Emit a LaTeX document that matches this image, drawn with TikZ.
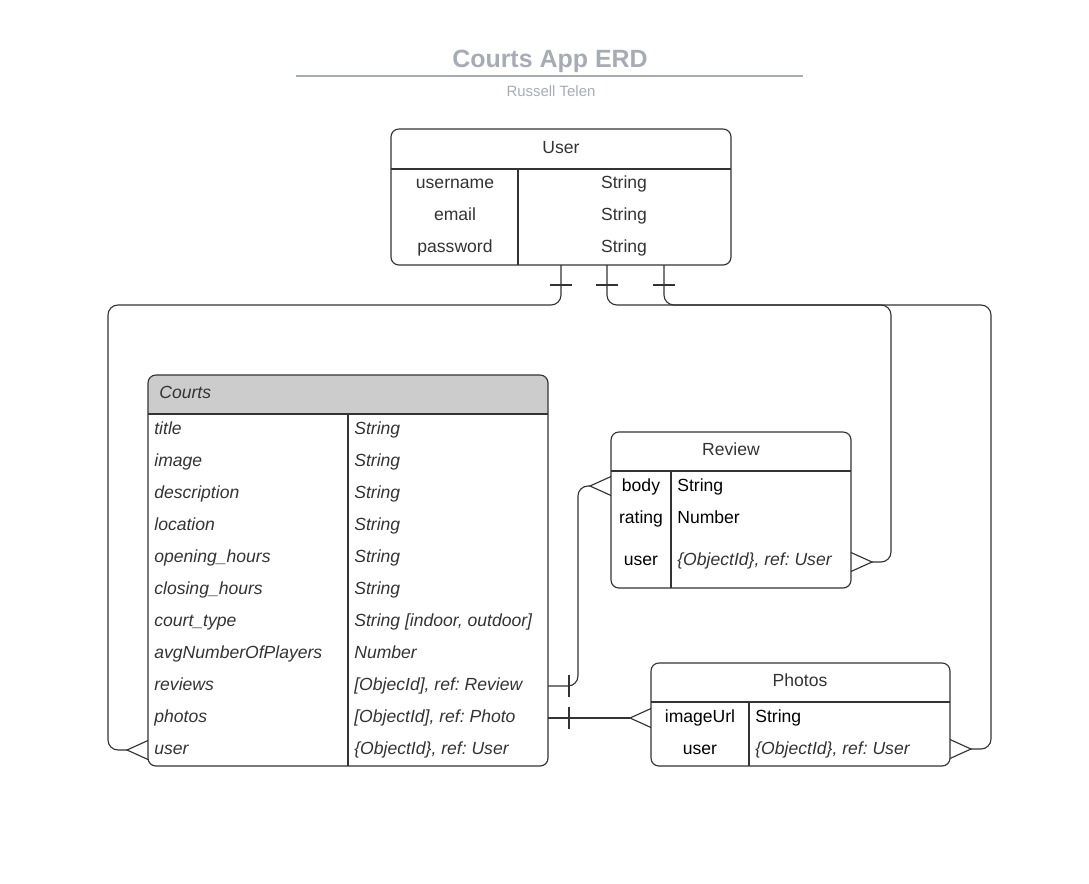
\documentclass[tikz,border=0pt]{standalone}
\usepackage{fontspec}
\setmainfont{Liberation Sans}
\usepackage{xcolor}
\usepackage{tikz}
\frenchspacing
\definecolor{ink}{HTML}{333333}
\definecolor{titlegray}{HTML}{A6ACB5}
\definecolor{headfill}{HTML}{CCCCCC}

\tikzset{
  box/.style={draw=ink, line width=0.65pt, rounded corners=4.5pt},
  rule/.style={draw=ink, line width=0.65pt},
  link/.style={draw=ink, line width=0.65pt, rounded corners=5.7pt, shorten >=0.42cm},
  cell/.style={font=\fontsize{10}{12}\selectfont, text=ink, inner sep=0pt, anchor=base},
  lcell/.style={cell, anchor=base west},
  icell/.style={lcell, font=\fontsize{10}{12}\selectfont\itshape},
  crow/.pic={\draw[rule] (0,-9.5) -- (-21,0) -- (0,9.5);},
  onebar/.pic={\draw[rule] (0,-11) -- (0,11);}
}

\begin{document}
\begin{tikzpicture}[x=0.02cm, y=-0.02cm]
    \useasboundingbox (0,0) rectangle (1089,883);

    % --- Title ---
    \node[cell, font=\fontsize{14.2}{17}\selectfont\bfseries, text=titlegray] (title) at (550,67) {Courts App ERD};
    \draw[titlegray, line width=1.1pt] (296,76) -- (803,76);
    \node[cell, font=\fontsize{8.5}{10}\selectfont, text=titlegray] (author) at (551,96) {Russell Telen};

    % --- User ---
    \draw[box] (391,129) rectangle (731,265);
    \draw[rule] (391,169) -- (731,169);
    \draw[rule] (518,169) -- (518,265);
    \node[cell] (u-head) at (561,153) {User};
    \foreach \fname [count=\i from 0] in {username, email, password} {
        \node[cell] (un\i) at (455,188+32*\i) {\fname};
        \node[cell] (ut\i) at (624,188+32*\i) {String};
    }

    % --- Courts ---
    \begin{scope}
        \clip[rounded corners=4.5pt] (148,375) rectangle (548,766);
        \fill[headfill] (148,375) rectangle (548,414);
    \end{scope}
    \draw[box] (148,375) rectangle (548,766);
    \draw[rule] (148,414) -- (548,414);
    \draw[rule] (348,414) -- (348,766);
    \node[icell] (c-head) at (159,398) {Courts};
    \foreach \fname/\ftype [count=\i from 0] in {title/String, image/String,
        description/String, location/String, opening\_hours/String,
        closing\_hours/String, court\_type/{String [indoor, outdoor]},
        avgNumberOfPlayers/Number, reviews/{[ObjecId], ref: Review},
        photos/{[ObjectId], ref: Photo}, user/{\{ObjectId\}, ref: User}} {
        \node[icell] (cn\i) at (154,434+32*\i) {\fname};
        \node[icell] (ct\i) at (354,434+32*\i) {\ftype};
    }

    % --- Review ---
    \draw[box] (611,432) rectangle (851,588);
    \draw[rule] (611,471) -- (851,471);
    \draw[rule] (671,471) -- (671,588);
    \node[cell] (r-head) at (731,455) {Review};
    \node[cell, text=black] (rn0) at (641,491) {body};
    \node[lcell, text=black] (rt0) at (677,491) {String};
    \node[cell, text=black] (rn1) at (641,523) {rating};
    \node[lcell, text=black] (rt1) at (677,523) {Number};
    \node[cell, text=black] (rn2) at (641,565) {user};
    \node[icell] (rt2) at (677,565) {\{ObjectId\}, ref: User};

    % --- Photos ---
    \draw[box] (651,663) rectangle (950,766);
    \draw[rule] (651,702) -- (950,702);
    \draw[rule] (749,702) -- (749,766);
    \node[cell] (p-head) at (800,686) {Photos};
    \node[cell, text=black] (pn0) at (700,722) {imageUrl};
    \node[lcell, text=black] (pt0) at (755,722) {String};
    \node[cell, text=black] (pn1) at (700,754) {user};
    \node[icell] (pt1) at (755,754) {\{ObjectId\}, ref: User};

    % --- connector ends ---
    \coordinate (u-a) at (561,265);
    \coordinate (u-b) at (607,265);
    \coordinate (u-c) at (664,265);
    \coordinate (c-user) at (148,750);
    \coordinate (c-rev) at (548,686);
    \coordinate (c-pho) at (548,718);
    \coordinate (r-body) at (611,486);
    \coordinate (r-user) at (851,562);
    \coordinate (p-url) at (651,718);
    \coordinate (p-user) at (950,749);

    % --- relations ---
    \draw[link] (u-a) |- (108,305) |- (c-user);
    \draw[link] (u-b) |- (891,305) |- (r-user);
    \draw[link] (u-c) |- (991,305) |- (p-user);
    \draw[link] (c-rev) -| (578,486) -- (r-body);
    \draw[link] (c-pho) -- (p-url);

    \foreach \px in {561, 607, 664}
        \pic[rotate=90] at (\px,285) {onebar};
    \pic at (569,686) {onebar};
    \pic at (569,718) {onebar};
    \pic at (c-user) {crow};
    \pic at (r-body) {crow};
    \pic at (p-url) {crow};
    \pic[rotate=180] at (r-user) {crow};
    \pic[rotate=180] at (p-user) {crow};
\end{tikzpicture}
\end{document}
